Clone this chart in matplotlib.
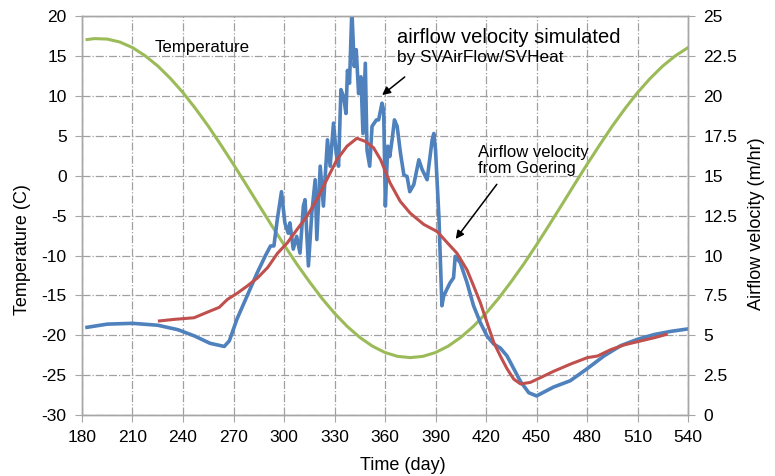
import matplotlib
matplotlib.use('Agg')
import matplotlib.pyplot as plt
from matplotlib.ticker import FuncFormatter, MultipleLocator

plt.rcParams['font.family'] = ['Liberation Sans', 'DejaVu Sans']
plt.rcParams['axes.unicode_minus'] = False

# Air temperature (C), left axis
temp_days = [183, 187.5, 195, 202.5, 210, 217.5, 225, 232.5, 240, 247.5, 255, 262.5,
             270, 277.5, 285, 292.5, 300, 307.5, 315, 322.5, 330, 337.5, 345, 352.5,
             360, 367.5, 375, 382.5, 390, 397.5, 405, 412.5, 420, 427.5, 435, 442.5,
             450, 457.5, 465, 472.5, 480, 487.5, 495, 502.5, 510, 517.5, 525, 532.5, 540]
temp_vals = [17.07, 17.19, 17.13, 16.76, 16.06, 15.04, 13.76, 12.2, 10.42, 8.4, 6.22,
             3.86, 1.42, -1.1, -3.65, -6.18, -8.66, -11.04, -13.26, -15.36, -17.24,
             -18.88, -20.26, -21.36, -22.16, -22.64, -22.8, -22.64, -22.16, -21.36,
             -20.26, -18.88, -17.24, -15.36, -13.26, -11.04, -8.66, -6.18, -3.65, -1.1,
             1.42, 3.86, 6.22, 8.4, 10.42, 12.2, 13.76, 15.04, 16.06]

# Airflow velocity simulated by SVAirFlow/SVHeat (m/hr), right axis
sim_days = [183, 195, 210, 225, 237, 247, 256, 264.5, 267.5, 272, 278, 284, 289,
            292, 294, 296, 298.5, 300.5, 302.5, 303.5, 305.5, 307.5, 309.5, 311.5,
            312.5, 314.5, 316.5, 318.5, 319.5, 321.5, 323.4, 325.8, 327.4, 329.4,
            331, 332.4, 333.8, 335.4, 336.8, 337.7, 338.9, 340.3, 341.7, 342.9,
            344.3, 345.7, 346.9, 348.3, 349.3, 350.9, 352.3, 354.9, 356.2, 358.2,
            359.2, 360.2, 361.6, 362.8, 364.2, 365.6, 367.2, 369.2, 371.2, 373.1,
            374.7, 377.1, 380.1, 382, 385, 388, 389, 390, 392, 393.8, 394.8, 396.8,
            398.7, 400.7, 401.7, 404.7, 408.7, 412.6, 416.6, 420.6, 424.6, 428.5,
            432.5, 436.5, 440.5, 445.4, 450, 460, 470, 480, 490, 500, 510, 520,
            530, 540]
sim_vals = [5.5, 5.7, 5.75, 5.63, 5.35, 4.95, 4.5, 4.3, 4.65, 6.0, 7.45, 8.9, 10.0,
            10.6, 10.6, 12.25, 14.0, 12.05, 11.4, 12.05, 10.4, 11.2, 10.15, 13.1,
            13.5, 9.35, 12.65, 14.75, 11.0, 15.6, 13.1, 17.25, 15.6, 18.3,
            16.4, 15.6, 20.4, 19.95, 18.9, 21.6, 20.8, 25.4, 21.85, 22.9,
            20.15, 21.2, 17.65, 22.05, 16.6, 15.6, 18.1, 18.5, 18.5, 19.55,
            19.1, 13.1, 16.85, 16.2, 17.25, 18.5, 18.1, 16.4, 15.05, 14.95,
            14.0, 14.45, 16.0, 15.4, 14.75, 17.25, 17.65, 16.6, 12.45, 6.85, 7.45, 7.9,
            8.3, 8.6, 9.95, 9.55, 8.3, 6.85, 5.8, 4.95, 4.45, 4.2,
            3.7, 2.9, 2.1, 1.4, 1.2, 1.75, 2.15, 2.9, 3.7, 4.35, 4.75, 5.05,
            5.25, 5.4]

# Airflow velocity from Goering (m/hr), right axis
goer_days = [226, 235, 246.6, 254.5, 261.5, 266.4, 272.4, 278.3, 284.3, 290.3, 296.2,
             302, 307.5, 313.5, 319.5, 325.4, 331.4, 337.4, 343.3, 348.3, 353.2,
             357.4, 363, 369, 375, 383, 391, 397, 402.7, 408.7, 412.6, 416.6,
             420.6, 424.6, 428.5, 432.5, 436.5, 440.5, 446.4, 452.4, 460.3, 470.3,
             480.2, 486.2, 494.1, 502.1, 510, 520, 527]
goer_vals = [5.9, 6.0, 6.1, 6.45, 6.75, 7.25, 7.65, 8.1, 8.6, 9.25, 10.15,
             10.8, 11.6, 12.45, 13.5, 14.75, 16.0, 16.85, 17.35, 17.15, 16.75,
             16.0, 14.55, 13.4, 12.65, 11.95, 11.5, 10.8, 10.15, 9.1, 8.1, 7.05,
             5.8, 4.55, 3.7, 2.9, 2.25, 1.95, 2.05, 2.35, 2.75, 3.2,
             3.6, 3.7, 4.1, 4.4, 4.6, 4.85, 5.05]

fig = plt.figure(figsize=(7.75, 4.76), dpi=100)
ax1 = fig.add_axes([0.1058, 0.128, 0.782, 0.838])
ax2 = ax1.twinx()

ax1.plot(temp_days, temp_vals, color='#9BBB59', lw=2.2)
ax2.plot(sim_days, sim_vals, color='#4F81BD', lw=2.6)
ax2.plot(goer_days, goer_vals, color='#C0504D', lw=2.2)

ax1.set_xlim(180, 540)
ax1.set_ylim(-30, 20)
ax2.set_ylim(0, 25)
ax1.xaxis.set_major_locator(MultipleLocator(30))
ax1.yaxis.set_major_locator(MultipleLocator(5))
ax2.yaxis.set_major_locator(MultipleLocator(2.5))
ax2.yaxis.set_major_formatter(FuncFormatter(lambda v, p: '%g' % v))

ax1.grid(True, color='#A0A0A0', linestyle='-.', linewidth=0.9)
ax1.set_axisbelow(True)

for ax in (ax1, ax2):
    for s in ax.spines.values():
        s.set_color('#A6A6A6')
        s.set_linewidth(1.0)
    ax.tick_params(labelsize=12.5, color='#A6A6A6', length=5, pad=6)

ax1.set_xlabel('Time (day)', fontsize=13)
ax1.set_ylabel('Temperature (C)', fontsize=13)
ax2.set_ylabel('Airflow velocity (m/hr)', fontsize=13)
ax1.xaxis.set_label_coords(0.53, -0.105)
ax1.yaxis.set_label_coords(-0.084, 0.414)
ax2.yaxis.set_label_coords(1.099, 0.48)

# annotations
ax2.text(223.4, 23.05, 'Temperature', fontsize=12.2, va='center', ha='left')
ax2.text(367.2, 23.68, 'airflow velocity simulated', fontsize=14.5, va='center', ha='left')
ax2.text(367.2, 22.43, 'by SVAirFlow/SVHeat', fontsize=12.4, va='center', ha='left')
ax2.text(415.1, 16.43, 'Airflow velocity', fontsize=12, va='center', ha='left')
ax2.text(415.1, 15.48, 'from Goering', fontsize=12, va='center', ha='left')
ax2.annotate('', xy=(357, 19.95), xytext=(373, 21.3),
             arrowprops=dict(arrowstyle='-|>', color='black', lw=1.1, mutation_scale=12))
ax2.annotate('', xy=(401, 10.9), xytext=(427.4, 14.6),
             arrowprops=dict(arrowstyle='-|>', color='black', lw=1.1, mutation_scale=12))

fig.savefig('out.png', dpi=100)
